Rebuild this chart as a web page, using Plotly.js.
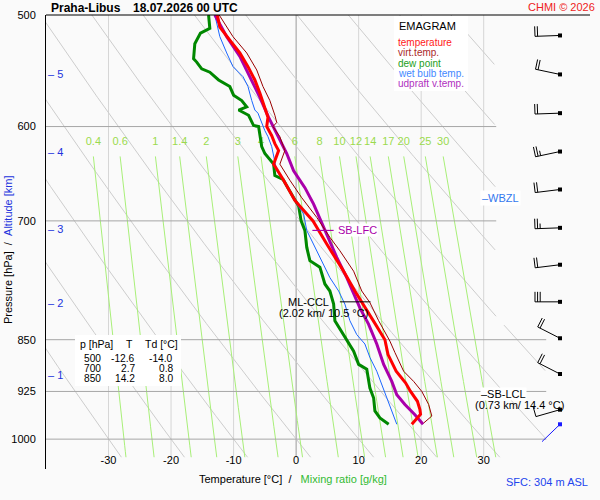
<!DOCTYPE html>
<html><head><meta charset="utf-8">
<script src="https://cdn.plot.ly/plotly-3.0.1.min.js"></script>
<style>body{margin:0;background:#fafafa}</style>
</head><body><div id="chart" style="width:600px;height:500px"></div>
<script>
// ---------------- DATA ----------------
// Temperature profile
const tempP = [500,510,521,532,544,556,568,581,591,600,609,617,624,638,655,677,700,727,760,785,811,829,850,871,895,912,925,940,953,960,976];
const tempT = [-12.6,-12.2,-10.6,-9.0,-7.7,-6.6,-5.8,-5.0,-4.5,-4.7,-3.9,-3.4,-2.8,-3.6,-2.0,-0.2,2.7,4.9,7.6,9.4,11.3,12.7,14.2,14.7,16.0,17.5,18.3,19.4,19.8,19.9,18.5];
// Virtual temperature
const virtP = [500,518,532,547,562,575,589,596,600,610,624,638,655,674,696,719,735,760,785,800,824,852,868,895,910,925,945,963,974];
const virtT = [-12.3,-10.1,-7.9,-6.3,-5.3,-4.2,-3.4,-3.1,-3.7,-2.6,-1.8,-2.6,-1.0,0.9,3.3,5.4,7.0,9.2,10.5,11.8,13.2,15.0,15.8,17.2,18.8,20.1,21.2,21.7,20.4];
// Dew point
const dewP = [500,511,515,524,537,540,546,549,556,562,570,575,581,584,589,599,600,607,620,627,638,650,654,674,683,700,711,731,747,755,776,785,802,824,843,850,866,885,892,920,935,955,966,976];
const dewT = [-14.0,-13.8,-15.3,-16.2,-16.4,-15.9,-15.1,-13.8,-12.4,-10.6,-10.0,-8.7,-7.9,-9.2,-7.6,-6.8,-6.0,-5.8,-5.5,-5.0,-3.6,-3.4,-2.1,-0.4,0.4,0.8,1.4,1.7,2.2,3.8,4.6,5.4,6.0,6.2,7.6,8.0,9.2,10.0,11.3,11.8,12.4,12.6,13.4,14.8];
// Wet bulb temperature
const wetP = [500,512,518,532,544,553,562,575,584,587,597,604,610,620,645,659,677,692,711,727,751,768,785,802,824,843,856,875,895,915,935,950,976];
const wetT = [-13.0,-12.5,-12.2,-11.1,-10.1,-8.5,-7.7,-7.1,-6.6,-6.1,-5.5,-5.0,-4.5,-3.9,-3.1,-1.7,-0.3,1.2,1.7,2.8,4.4,5.4,6.8,7.8,8.6,9.7,11.0,11.8,12.9,13.7,14.5,15.0,16.1];
// Updraft (parcel) virtual temperature
const parcelP = [500,518,535,553,572,591,607,627,645,663,681,707,723,743,768,798,807,829,856,885,910,930,945,961,976];
const parcelT = [-13.0,-11.1,-9.0,-7.4,-5.8,-4.4,-3.1,-1.5,-0.4,1.4,2.8,4.4,5.4,6.5,8.1,9.7,10.2,11.6,12.9,14.0,15.3,16.1,17.4,19.0,20.3];
// Wind (pressure hPa, direction deg, speed kt)
const windP   = [976,953,899,848,799,752,708,665,625,587,551,517];
const windDir = [226,254,297,297,270,263,268,263,258,268,282,268];
const windSpd = [3,10,20,20,30,20,25,20,25,20,20,20];
// Altitude marks
const altKm = [1,2,3,4,5];
const altP  = [901,801,709,625,551];
// Background families
const mixRatios = [0.4,0.6,1,1.4,2,3,4,6,8,10,12,14,17,20,25,30];
const isobars = [600,700,850,925,1000];
const isotherms = [-30,-20,-10,10,20,30];
const zeroIsotherm = [0];
const thetasC = [-30,-20,-10,0,10,20,30,40,50,60,70,80,90,100,110,120,130,140,150,160];
// Table
const tableP  = [500,700,850];
const tableT  = [-12.6,2.7,14.2];
const tableTd = [-14.0,0.8,8.0];
// Axis ticks
const xTicks = [-30,-20,-10,0,10,20,30];
const yTicks = [500,600,700,850,925,1000];
// Levels
const lfcP = 711, lfcT = 4.3;
const cclP = 799, cclKm = 2.02, cclT = 10.5;
const lclP = 929, lclKm = 0.73, lclT = 14.4;
const wbzlP = 674;
const sfcAlt = 304;

// ---------------- GEOMETRY / STYLE ----------------
const W=600,H=500, M={l:46,r:10,t:15,b:31};
const PW=W-M.l-M.r, PH=H-M.t-M.b;
const X_MIN=-40, X_MAX=47, P_TOP=500, P_BOT=1050;
const pxDeg = PW/(X_MAX-X_MIN), pxLn = PH/Math.log(P_BOT/P_TOP);
const LINE_BOT=1030, MIX_TOP=630, MIX_LABEL_P=616;
const CLIP_P=830, CLIP_T_UP=32, CLIP_T_LOW=40;
const BARB_X=42.2, BARB_L=25, FEATH=10, FSP=2.6;
const FONT='"Liberation Sans", Arial, sans-serif';
const C = {T:'#ff0000',Tv:'#990000',Td:'#008800',Tw:'#1a66ff',Tp:'#aa00aa',
  iso:'#d6d6d6', zero:'#9a9a9a', bar:'#a6a6a6', dry:'#cdcdcd', mix:'#a8ef78', mixLab:'#9ada4e', blue:'#2233dd'};

const clipT = p => p < CLIP_P ? CLIP_T_UP : CLIP_T_LOW;
const px2x = x => (x - M.l)/PW;
const px2y = y => (H - M.b - y)/PH;
function mixTd(w,p){const e=w*p/(622+w); const l=Math.log(e/6.112); return 243.5*l/(17.67-l);}

const traces=[];
function lineTrace(x,y,color,width){return {type:'scatter',mode:'lines',x:x,y:y,line:{color:color,width:width},hoverinfo:'skip',connectgaps:false};}

// isotherms
(function(){const x=[],y=[];isotherms.forEach(t=>{x.push(t,t,null);y.push(P_TOP,LINE_BOT,null);});traces.push(lineTrace(x,y,C.iso,1));
 const x2=[],y2=[];zeroIsotherm.forEach(t=>{x2.push(t,t,null);y2.push(P_TOP,LINE_BOT,null);});traces.push(lineTrace(x2,y2,C.zero,1));})();
// dry adiabats
(function(){const x=[],y=[];thetasC.forEach(th=>{let open=false;
 for(let p=P_TOP;p<=LINE_BOT;p+=2){const T=(th+273.15)*Math.pow(p/1000,0.2857)-273.15;
  if(T<=clipT(p)&&T>=X_MIN-8){x.push(T);y.push(p);open=true;} else if(open){x.push(null);y.push(null);open=false;}}
 x.push(null);y.push(null);});traces.push(lineTrace(x,y,C.dry,1));})();
// mixing ratio lines
(function(){const x=[],y=[];mixRatios.forEach(w=>{for(let p=MIX_TOP;p<=LINE_BOT;p+=10){x.push(mixTd(w,p));y.push(p);}x.push(null);y.push(null);});
 traces.push(lineTrace(x,y,C.mix,1));
 traces.push({type:'scatter',mode:'text',x:mixRatios.map(w=>mixTd(w,MIX_TOP)),y:mixRatios.map(()=>MIX_LABEL_P),text:mixRatios.map(String),
  textfont:{family:FONT,size:11,color:C.mixLab},textposition:'middle center',hoverinfo:'skip'});})();
// isobars
(function(){const x=[],y=[];isobars.forEach(p=>{x.push(X_MIN,clipT(p),null);y.push(p,p,null);});traces.push(lineTrace(x,y,C.bar,1));})();

// profiles
traces.push(lineTrace(dewT,dewP,C.Td,3));
traces.push(lineTrace(wetT,wetP,C.Tw,1));
traces.push(lineTrace(parcelT,parcelP,C.Tp,3));
traces.push(lineTrace(tempT,tempP,C.T,3));
traces.push(lineTrace(virtT,virtP,C.Tv,1));

// level marker lines
traces.push(lineTrace([lfcT-1.7,lfcT+1.7],[lfcP,lfcP],C.Tp,1.2));
traces.push(lineTrace([cclT-3.5,cclT+1.4],[cclP,cclP],'#000',1));

// wind barbs
(function(){const bx=[],by=[],sx=[],sy=[];const dotX=[],dotY=[],dotC=[];
 const sfcIdx = windP.indexOf(Math.max.apply(null,windP));
 windP.forEach((p,i)=>{const d=windDir[i]*Math.PI/180, ux=Math.sin(d), uy=-Math.cos(d), fx=-uy, fy=ux;
  const X = i===sfcIdx?sx:bx, Y = i===sfcIdx?sy:by;
  const pt=(dx,dy)=>[BARB_X+dx/pxDeg, p*Math.exp(dy/pxLn)];
  const seg=(a,b)=>{X.push(a[0],b[0],null);Y.push(a[1],b[1],null);};
  seg(pt(0,0),pt(ux*BARB_L,uy*BARB_L));
  const s=windSpd[i]; const full=Math.floor(s/10), half=Math.floor((s%10)/5);
  let pos=BARB_L; if(full===0&&half) pos-=FSP;
  for(let k=0;k<full;k++){seg(pt(ux*pos,uy*pos),pt(ux*pos+fx*FEATH,uy*pos+fy*FEATH));pos-=FSP;}
  if(half){seg(pt(ux*pos,uy*pos),pt(ux*pos+fx*FEATH/2,uy*pos+fy*FEATH/2));}
  dotX.push(BARB_X);dotY.push(p);dotC.push(i===sfcIdx?'#1a1aff':'#000');});
 traces.push(lineTrace(bx,by,'#000',1));
 traces.push(lineTrace(sx,sy,'#1a1aff',1));
 traces.push({type:'scatter',mode:'markers',x:dotX,y:dotY,marker:{symbol:'square',size:4,color:dotC},hoverinfo:'skip'});})();

// ---------------- ANNOTATIONS ----------------
const ann=[];
function pa(text,x,y,opts){return Object.assign({text:text,x:px2x(x),y:px2y(y),xref:'paper',yref:'paper',showarrow:false,xanchor:'left',yanchor:'middle',font:{family:FONT,size:11,color:'#000'}},opts||{});}
ann.push(pa('<b>Praha-Libus</b>',49,7.5,{font:{family:FONT,size:12,color:'#000'}}));
ann.push(pa('<b>18.07.2026 00 UTC</b>',131,7.5,{font:{family:FONT,size:12,color:'#000'}}));
ann.push(pa('CHMI © 2026',597,7,{xanchor:'right',font:{family:FONT,size:11,color:'#ee2222'}}));
ann.push(pa('Temperature [°C]\u00A0\u00A0/\u00A0\u00A0\u00A0<span style="color:#33bb33">Mixing ratio [g/kg]</span>',293,479.5,{xanchor:'center'}));
ann.push(pa('Pressure [hPa]\u00A0\u00A0/\u00A0\u00A0<span style="color:'+C.blue+'">Altitude [km]</span>',8,250,{xanchor:'center',textangle:-90}));
ann.push(pa('SFC: '+sfcAlt+' m ASL',590,482,{xanchor:'right',font:{family:FONT,size:11,color:'#2244ee'}}));
// legend
ann.push(pa('EMAGRAM',397,26,{font:{family:FONT,size:11,color:'#000'}}));
[['temperature','#ff2020'],['virt.temp.','#aa2a2a'],['dew point','#22a022'],['wet bulb temp.','#4488ff'],['udpraft v.temp.','#b030c0']]
 .forEach((e,i)=>ann.push(pa(e[0],396,42+i*10.5,{font:{family:FONT,size:10,color:e[1]}})));
// table
ann.push(pa('p [hPa]',78,344,{font:{family:FONT,size:10.5}}));
ann.push(pa('T',124,344,{font:{family:FONT,size:10.5}}));
ann.push(pa('Td [°C]',143,344,{font:{family:FONT,size:10.5}}));
tableP.forEach((p,i)=>{const y=358+i*10.3;
 ann.push(pa(String(p),102.5,y,{xanchor:'right',font:{family:FONT,size:10.2}}));
 ann.push(pa(tableT[i].toFixed(1),137,y,{xanchor:'right',font:{family:FONT,size:10.2}}));
 ann.push(pa(tableTd[i].toFixed(1),174.5,y,{xanchor:'right',font:{family:FONT,size:10.2}}));});
// altitude marks
altKm.forEach((k,i)=>ann.push({text:'–\u00A0'+k,x:X_MIN,y:Math.log10(altP[i]),xref:'x',yref:'y',showarrow:false,xanchor:'left',yanchor:'middle',xshift:0,font:{family:FONT,size:11,color:C.blue}}));
// level labels
function da(text,x,p,opts){return Object.assign({text:text,x:x,y:Math.log10(p),xref:'x',yref:'y',showarrow:false,xanchor:'left',yanchor:'middle',font:{family:FONT,size:11,color:'#000'}},opts||{});}
ann.push(da('SB-LFC',lfcT+2.2,lfcP,{font:{family:FONT,size:11,color:C.Tp},bgcolor:'#ffffff',borderpad:0}));
ann.push(da('ML-CCL',cclT-4.9,cclP,{xanchor:'right'}));
ann.push(da('('+cclKm.toFixed(2)+' km/ '+cclT.toFixed(1)+' °C)',cclT-6.2,cclP,{xanchor:'center',yshift:-11}));
ann.push(da('–SB-LCL',29.4,lclP,{bgcolor:'#ffffff',borderpad:0}));
ann.push(da('('+lclKm.toFixed(2)+' km/ '+lclT.toFixed(1)+' °C)',35.7,lclP,{xanchor:'center',yshift:-11}));
ann.push(da('–WBZL',29.4,wbzlP,{bgcolor:'#ffffff',borderpad:1,font:{family:FONT,size:11,color:'#3377ee'}}));

// ---------------- LAYOUT ----------------
const shapes=[
 {type:'line',xref:'paper',yref:'paper',x0:0,x1:1,y0:1,y1:1,line:{color:'#000',width:1}},
 {type:'rect',xref:'paper',yref:'paper',x0:px2x(394),x1:px2x(468),y0:px2y(91),y1:px2y(16),fillcolor:'#ffffff',line:{width:0},layer:'above'},
 {type:'rect',xref:'paper',yref:'paper',x0:px2x(75),x1:px2x(181),y0:px2y(386),y1:px2y(335),fillcolor:'#ffffff',line:{width:0},layer:'above'}
];
const layout={width:W,height:H,margin:{l:M.l,r:M.r,t:M.t,b:M.b,pad:0},
 paper_bgcolor:'#fafafa',plot_bgcolor:'#fafafa',showlegend:false,
 font:{family:FONT,size:11,color:'#000'},
 xaxis:{range:[X_MIN,X_MAX],tickmode:'array',tickvals:xTicks,ticktext:xTicks.map(String),showgrid:false,zeroline:false,showline:false,ticks:'',ticklabelposition:'inside',tickfont:{family:FONT,size:11,color:'#000'}},
 yaxis:{type:'log',range:[Math.log10(P_BOT),Math.log10(P_TOP)],tickmode:'array',tickvals:yTicks,ticktext:yTicks.map(String),showgrid:false,zeroline:false,showline:true,linecolor:'#000',linewidth:1,ticks:'',ticklabelstandoff:7,tickfont:{family:FONT,size:11,color:'#000'}},
 shapes:shapes,annotations:ann};
Plotly.newPlot('chart',traces,layout,{staticPlot:true,displayModeBar:false});
</script></body></html>
